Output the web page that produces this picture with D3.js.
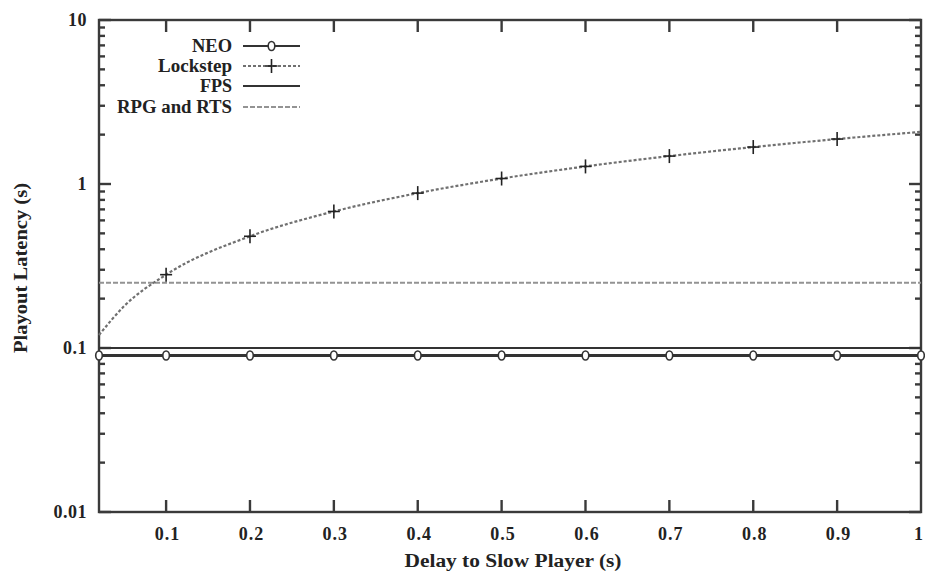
<!DOCTYPE html>
<html>
<head>
<meta charset="utf-8">
<script src="https://cdn.jsdelivr.net/npm/d3@7/dist/d3.min.js"></script>
<style>
  html, body { margin: 0; padding: 0; background: #fff; }
  svg text { font-family: "Liberation Serif", "DejaVu Serif", serif; fill: #222; font-weight: bold; }
</style>
</head>
<body>
<svg id="chart" width="925" height="574"></svg>
<script>
// Delay to slow player (s) and playout latency (s) for each scheme
const delays       = [0.02, 0.05, 0.1, 0.2, 0.3, 0.4, 0.5, 0.6, 0.7, 0.8, 0.9, 1.0];
const neoLatency   = [0.09, 0.09, 0.09, 0.09, 0.09, 0.09, 0.09, 0.09, 0.09, 0.09, 0.09, 0.09];
const lockLatency  = [0.12, 0.18, 0.28, 0.48, 0.68, 0.88, 1.08, 1.28, 1.48, 1.68, 1.88, 2.08];
const neoMarkDelays  = [0.02, 0.1, 0.2, 0.3, 0.4, 0.5, 0.6, 0.7, 0.8, 0.9, 1.0];
const lockMarkDelays = [0.1, 0.2, 0.3, 0.4, 0.5, 0.6, 0.7, 0.8, 0.9];
const fpsLatency   = 0.1;
const rpgLatency   = 0.25;

const xTicks = [0.1, 0.2, 0.3, 0.4, 0.5, 0.6, 0.7, 0.8, 0.9, 1];
const xTickLabels = ["0.1", "0.2", "0.3", "0.4", "0.5", "0.6", "0.7", "0.8", "0.9", "1"];
const yTicks = [0.01, 0.1, 1, 10];
const yTickLabels = ["0.01", "0.1", "1", "10"];
const legendNames = ["NEO", "Lockstep", "FPS", "RPG and RTS"];

const svg = d3.select("#chart");
const pL = 99, pR = 921, pT = 20, pB = 512;
const axisColor = "#3a3a3a";

const x = d3.scaleLinear().domain([0.02, 1.0]).range([pL, pR]);
const y = d3.scaleLog().domain([0.01, 10]).range([pB, pT]);

// minor log ticks 2..9 in each decade
const minorY = [];
[0.01, 0.1, 1].forEach(d => { for (let k = 2; k <= 9; k++) minorY.push(d * k); });

const g = svg.append("g");

// frame
g.append("rect")
  .attr("x", pL).attr("y", pT)
  .attr("width", pR - pL).attr("height", pB - pT)
  .attr("fill", "none").attr("stroke", axisColor).attr("stroke-width", 2.4);

// y ticks, inward on both sides
const yt = g.append("g").attr("stroke", axisColor).attr("stroke-width", 2.4);
yTicks.forEach(v => {
  yt.append("line").attr("x1", pL).attr("x2", pL + 12).attr("y1", y(v)).attr("y2", y(v));
  yt.append("line").attr("x1", pR).attr("x2", pR - 12).attr("y1", y(v)).attr("y2", y(v));
});
minorY.forEach(v => {
  yt.append("line").attr("x1", pL).attr("x2", pL + 6).attr("y1", y(v)).attr("y2", y(v));
  yt.append("line").attr("x1", pR).attr("x2", pR - 6).attr("y1", y(v)).attr("y2", y(v));
});

// x ticks, inward on top and bottom
const xt = g.append("g").attr("stroke", axisColor).attr("stroke-width", 2.4);
xTicks.slice(0, -1).forEach(v => {
  xt.append("line").attr("x1", x(v)).attr("x2", x(v)).attr("y1", pB).attr("y2", pB - 12);
  xt.append("line").attr("x1", x(v)).attr("x2", x(v)).attr("y1", pT).attr("y2", pT + 12);
});

// tick labels
g.append("g").selectAll("text").data(yTicks).join("text")
  .attr("x", pL - 12).attr("y", d => y(d) + 6)
  .attr("text-anchor", "end").attr("font-size", 18)
  .attr("letter-spacing", 0.5)
  .text((d, i) => yTickLabels[i]);

// the last label sits at the right edge, so it is right-aligned there
g.append("g").selectAll("text").data(xTicks).join("text")
  .attr("x", (d, i) => i === xTicks.length - 1 ? x(d) + 2 : x(d) + 1.5)
  .attr("y", pB + 28)
  .attr("text-anchor", (d, i) => i === xTicks.length - 1 ? "end" : "middle")
  .attr("font-size", 18)
  .attr("letter-spacing", (d, i) => i === xTicks.length - 1 ? 0 : 1)
  .text((d, i) => xTickLabels[i]);

// axis titles
g.append("text").attr("x", 513).attr("y", 567)
  .attr("text-anchor", "middle").attr("font-size", 18)
  .attr("textLength", 217).attr("lengthAdjust", "spacingAndGlyphs")
  .text("Delay to Slow Player (s)");
g.append("text")
  .attr("transform", "translate(27,268) rotate(-90)")
  .attr("text-anchor", "middle").attr("font-size", 18)
  .attr("textLength", 170).attr("lengthAdjust", "spacingAndGlyphs")
  .text("Playout Latency (s)");

// RPG and RTS: dashed horizontal line
g.append("line")
  .attr("x1", pL).attr("x2", pR).attr("y1", y(rpgLatency)).attr("y2", y(rpgLatency))
  .attr("stroke", "#939393").attr("stroke-width", 2).attr("stroke-dasharray", "5,2");

// FPS: solid horizontal line
g.append("line")
  .attr("x1", pL).attr("x2", pR).attr("y1", y(fpsLatency)).attr("y2", y(fpsLatency))
  .attr("stroke", "#333").attr("stroke-width", 2.2);

// Lockstep: dotted curve with + markers
g.append("path")
  .datum(delays.map((d, i) => [d, lockLatency[i]]))
  .attr("d", d3.line().x(d => x(d[0])).y(d => y(d[1])).curve(d3.curveMonotoneX))
  .attr("fill", "none").attr("stroke", "#707070").attr("stroke-width", 2.2)
  .attr("stroke-dasharray", "3,2");

const plus = (sel, cx, cy, r) => {
  sel.append("line").attr("x1", cx - r).attr("x2", cx + r).attr("y1", cy).attr("y2", cy);
  sel.append("line").attr("x1", cx).attr("x2", cx).attr("y1", cy - r - 1).attr("y2", cy + r + 1);
};
const lockMarks = g.append("g").attr("stroke", "#222").attr("stroke-width", 1.6);
lockMarkDelays.forEach(d => {
  const i = delays.indexOf(d);
  plus(lockMarks, x(d), y(lockLatency[i]), 6);
});

// NEO: solid line with open circle markers
g.append("path")
  .datum(delays.map((d, i) => [d, neoLatency[i]]))
  .attr("d", d3.line().x(d => x(d[0])).y(d => y(d[1])))
  .attr("fill", "none").attr("stroke", "#333").attr("stroke-width", 2.8);
g.append("g").selectAll("ellipse").data(neoMarkDelays).join("ellipse")
  .attr("cx", d => x(d)).attr("cy", d => y(neoLatency[delays.indexOf(d)]))
  .attr("rx", 3.3).attr("ry", 4.5)
  .attr("fill", "#fff").attr("stroke", "#333").attr("stroke-width", 1.6);

// legend
const legRows = [46, 66, 86, 107];
const legWidths = [40, 74, 32, 115];
const lx1 = 243, lx2 = 300, ltx = 232;
const leg = g.append("g");
legendNames.forEach((name, i) => {
  leg.append("text").attr("x", ltx).attr("y", legRows[i] + 6)
    .attr("text-anchor", "end").attr("font-size", 18)
    .attr("textLength", legWidths[i]).attr("lengthAdjust", "spacingAndGlyphs")
    .text(name);
});
const mid = (lx1 + lx2) / 2;
// NEO sample
leg.append("line").attr("x1", lx1).attr("x2", lx2).attr("y1", legRows[0]).attr("y2", legRows[0])
  .attr("stroke", "#333").attr("stroke-width", 2.2);
leg.append("ellipse").attr("cx", mid).attr("cy", legRows[0]).attr("rx", 3.3).attr("ry", 4.5)
  .attr("fill", "#fff").attr("stroke", "#333").attr("stroke-width", 1.6);
// Lockstep sample
leg.append("line").attr("x1", lx1).attr("x2", lx2).attr("y1", legRows[1]).attr("y2", legRows[1])
  .attr("stroke", "#707070").attr("stroke-width", 2.2).attr("stroke-dasharray", "3,2");
const lm = leg.append("g").attr("stroke", "#222").attr("stroke-width", 1.6);
plus(lm, mid, legRows[1], 6);
// FPS sample
leg.append("line").attr("x1", lx1).attr("x2", lx2).attr("y1", legRows[2]).attr("y2", legRows[2])
  .attr("stroke", "#333").attr("stroke-width", 2.2);
// RPG and RTS sample
leg.append("line").attr("x1", lx1).attr("x2", lx2).attr("y1", legRows[3]).attr("y2", legRows[3])
  .attr("stroke", "#939393").attr("stroke-width", 2).attr("stroke-dasharray", "5,2");
</script>
</body>
</html>
